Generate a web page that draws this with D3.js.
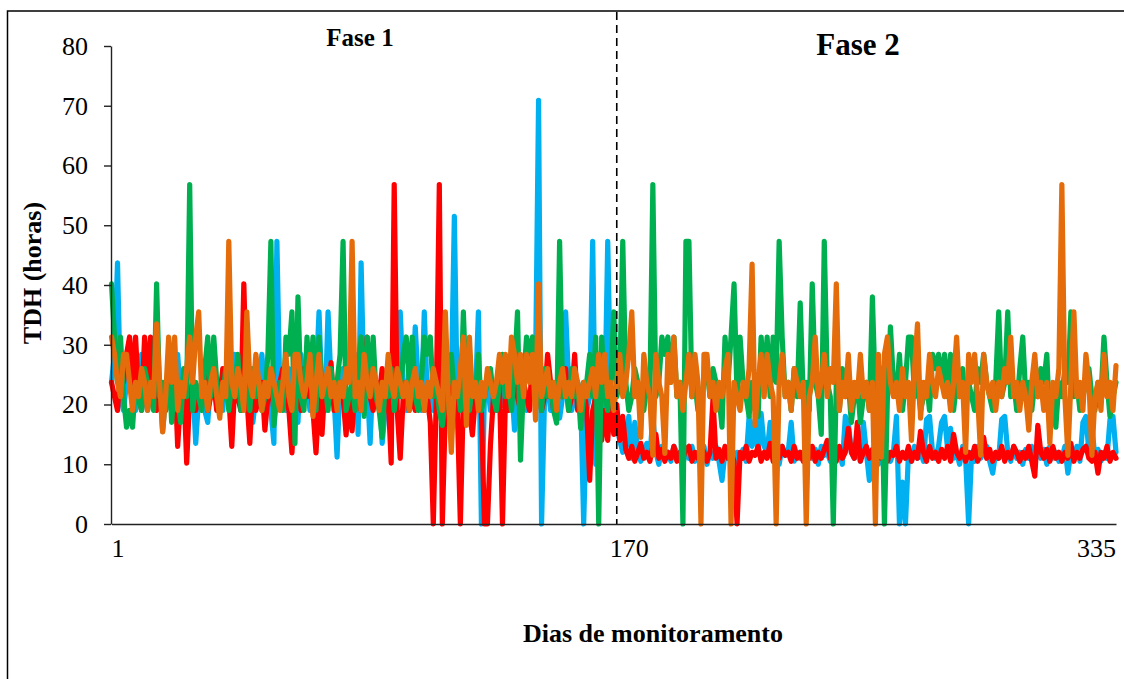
<!DOCTYPE html>
<html>
<head>
<meta charset="utf-8">
<script src="https://cdn.jsdelivr.net/npm/d3@7"></script>
<style>
  body { margin: 0; background: #fff; }
  svg text { font-family: 'Liberation Serif', 'Times New Roman', serif; }
</style>
</head>
<body>
<script>
// days of monitoring (x categories)
const days = d3.range(1, 336)
const xTickLabels = [1, 170, 335]
const yTicks = [0, 10, 20, 30, 40, 50, 60, 70, 80]
const phaseBreak = 169

// TDH (horas) per day
const blue = [
  23.7, 28.4, 43.7, 21.3, 19, 23.7, 26, 21.3, 19, 23.7, 28.4, 21.3, 19, 26, 23.7, 21.3, 23.7, 15.5, 21.3, 26,
  23.7, 19, 28.4, 21.3, 23.7, 19, 21.3, 23.7, 13.5, 21.3, 23.7, 19, 17, 23.7, 26, 21.3, 23.7, 19, 26, 23.7,
  21.3, 28.4, 23.7, 19, 21.3, 23.7, 26, 17, 21.3, 23.7, 28.4, 21.3, 23.7, 19, 13.5, 47.3, 21.3, 23.7, 19, 26,
  21.3, 23.7, 17, 28.4, 21.3, 23.7, 19, 26, 23.7, 35.5, 21.3, 19, 35.5, 23.7, 21.3, 11.2, 23.7, 26, 21.3, 19,
  23.7, 28.4, 15, 43.7, 21.3, 23.7, 13.5, 26, 21.3, 23.7, 13.5, 19, 21.3, 23.7, 28.4, 21.3, 35.5, 23.7, 19, 26,
  21.3, 33, 23.7, 19, 35.5, 21.3, 23.7, 19, 26, 21.3, 23.7, 19, 21.3, 23.7, 51.5, 19, 21.3, 23.7, 26, 19,
  23.7, 21.3, 35.5, 0, 21.3, 23.7, 19, 23.7, 21.3, 26, 23.7, 19, 21.3, 23.7, 15.7, 21.3, 26, 23.7, 19, 21.3,
  23.7, 26, 70.9, 0, 21.3, 23.7, 19, 21.3, 23.7, 17.7, 21.3, 35.5, 23.7, 19, 21.3, 23.7, 21.3, 0, 19, 21.3,
  47.3, 10, 21.3, 23.7, 19, 47.3, 21.3, 19, 16.5, 14,
  12, 13, 18, 11, 17, 12.5, 10.5, 12, 13.5, 11, 18, 12, 10, 13, 11.5, 12, 10.5, 13, 12, 11,
  10, 12.5, 11, 13, 10.5, 12, 11.5, 13, 10, 12, 11, 13, 10.5, 7.3, 12, 11, 13.5, 10, 12, 11,
  12.5, 10.5, 18, 13, 17.5, 12, 18.5, 13, 12, 17, 11, 12.5, 10, 13, 11.5, 12, 17, 10.5, 12, 11,
  12, 10.5, 13, 11, 12.5, 10, 13, 11.5, 12, 10.5, 13, 11, 12, 10, 18, 17, 12, 11, 13, 10.5,
  17, 12, 7.3, 11, 12.5, 10, 13, 11, 12, 10.5, 12, 18, 0, 7, 0, 12, 10.5, 13, 11, 12,
  10.5, 17.5, 18, 12, 11, 13, 17, 18, 12.5, 16, 11, 12, 10, 13, 11, 0, 12, 10.5, 13, 11,
  12, 13, 10.5, 8.5, 12, 11, 17.5, 18, 12, 10.5, 13, 11, 12, 10, 12.5, 11, 13, 10.5, 12, 11,
  12.5, 10, 13, 11, 12, 10.5, 11, 13, 8.5, 12, 11, 13, 10.5, 17, 18, 12, 16.5, 11, 12.5, 10.5,
  12, 11, 17.5, 18, 12
]

const red = [
  23.7, 21.3, 19, 26, 23.7, 28.4, 31.3, 23.7, 31.3, 21.3, 19, 31.3, 23.7, 31.3, 21.3, 19, 23.7, 21.3, 19, 23.7,
  21.3, 26, 13, 21.3, 23.7, 10.2, 21.3, 23.7, 19, 21.3, 23.7, 26, 19, 21.3, 23.7, 19, 21.3, 26, 23.7, 21.3,
  13, 23.7, 21.3, 19, 40.2, 21.3, 13.5, 23.7, 19, 21.3, 23.7, 15.7, 21.3, 23.7, 19, 21.3, 23.7, 26, 21.3, 19,
  11.9, 21.3, 23.7, 19, 26, 21.3, 23.7, 19, 11.9, 21.3, 15, 23.7, 21.3, 27, 19, 21.3, 23.7, 21.3, 14.9, 21.3,
  15.6, 23.7, 21.3, 19, 23.7, 31.3, 21.3, 19, 23.7, 21.3, 26, 19, 21.3, 10.2, 56.8, 19, 11, 21.3, 23.7, 19,
  21.3, 19, 23.7, 21.3, 19, 21.3, 17, 0, 21.3, 56.8, 0, 19, 21.3, 23.7, 21.3, 19, 0, 21.3, 23.7, 19,
  14.9, 21.3, 23.7, 19, 0, 0, 13.2, 21.3, 19, 23.7, 0, 21.3, 19, 23.7, 28.4, 21.3, 19, 23.7, 21.3, 19,
  28.4, 21.3, 23.7, 19, 21.3, 28.4, 23.7, 19, 21.3, 28.4, 21.3, 26, 19, 21.3, 28.4, 19, 21.3, 23.7, 19, 7.3,
  19, 21.3, 28.4, 14, 19, 14, 21.3, 15, 20, 14,
  18, 12.5, 11, 13, 10.5, 12, 13.5, 11, 12, 10.5, 13, 15, 11, 12.5, 10.5, 12, 11, 13, 10.5, 12,
  11, 12.5, 13, 10.5, 12, 11, 13, 12, 10.5, 12, 21, 11, 12.5, 10.5, 13, 11, 12, 10.5, 0, 12,
  11, 13, 10.5, 12, 11.5, 13, 10.5, 12, 11, 13.5, 10.5, 12, 11, 13, 11.5, 12, 10.5, 13, 11, 12,
  10.5, 12.5, 11, 13, 10.5, 12, 11, 12.5, 14, 11, 12, 10.5, 13, 11, 12, 16, 12, 11, 17, 10.5,
  12, 13, 11, 12.5, 10.5, 12, 11, 13, 10.5, 12, 11.5, 13, 10.5, 12, 11, 13, 10.5, 12, 11, 15.5,
  12, 10.5, 13, 11, 12, 10.5, 12.5, 11, 13, 10.5, 15, 12, 11, 12.5, 10.5, 12, 11, 13, 10.5, 12,
  14.5, 11, 12.5, 10.5, 12, 11, 13, 10.5, 12, 11, 13, 12, 10.5, 12, 11, 13, 10.5, 8, 16.5, 12,
  11, 12.5, 10.5, 13, 11, 12, 10.5, 12, 11, 13.5, 10.5, 12, 11, 12.5, 13, 11, 10.5, 12, 8.5, 12,
  11, 13, 10.5, 12, 11
]

const green = [
  40.2, 31.3, 23.7, 31.3, 21.3, 16.2, 19, 16.2, 23.7, 21.3, 19, 26, 23.7, 21.3, 19, 40.2, 21.3, 23.7, 19, 28.4,
  17, 23.7, 21.3, 17, 26, 21.3, 56.8, 19, 23.7, 21.3, 19, 26, 31.3, 21.3, 31.3, 23.7, 19, 21.3, 26, 19,
  23.7, 21.3, 28.4, 19, 21.3, 23.7, 19, 26, 21.3, 23.7, 19, 21.3, 28.4, 47.3, 16.5, 21.3, 23.7, 19, 31.3, 28.4,
  35.5, 13.5, 38, 21.3, 19, 31.3, 23.7, 31.3, 19, 31.3, 21.3, 23.7, 19, 26, 21.3, 23.7, 28.4, 47.3, 19, 21.3,
  23.7, 19, 26, 31.3, 18, 31.3, 23.7, 31.3, 21.3, 19, 14.5, 23.7, 21.3, 26, 19, 23.7, 21.3, 28.4, 31.3, 23.7,
  31.3, 21.3, 19, 23.7, 31.3, 28.4, 31.3, 21.3, 23.7, 19, 16.5, 21.3, 23.7, 28.4, 21.3, 23.7, 19, 35.5, 21.3, 19,
  23.7, 21.3, 28.4, 19, 21.3, 23.7, 26, 21.3, 19, 23.7, 28.4, 21.3, 23.7, 19, 26, 35.5, 10.7, 23.7, 31.3, 28.4,
  31.3, 21.3, 23.7, 19, 26, 21.3, 23.7, 19, 16.9, 47.3, 21.3, 23.7, 19, 26, 21.3, 23.7, 16, 21.3, 23.7, 28.4,
  21.3, 31.3, 0, 31.3, 21.3, 19, 23.7, 35.5, 21.3, 23.7,
  47.3, 23.7, 19, 21.3, 26, 23.7, 21.3, 19, 23.7, 21.3, 56.8, 21.3, 23.7, 31.3, 28.4, 31.3, 23.7, 31.3, 21.3, 23.7,
  0, 47.3, 47.3, 21.3, 23.7, 19, 21.3, 23.7, 26, 21.3, 26, 23.7, 21.3, 16.2, 31.3, 23.7, 31.3, 40.2, 21.3, 31.3,
  23.7, 21.3, 18, 23.7, 19, 18, 31.3, 23.7, 31.3, 21.3, 31.3, 23.7, 47.3, 31.3, 21.3, 23.7, 19, 26, 21.3, 37,
  21.3, 23.7, 19, 40.2, 23.7, 21.3, 15, 47.3, 23.7, 21.3, 0, 23.7, 19, 26, 21.3, 23.7, 17, 21.3, 23.7, 17,
  21.3, 23.7, 19, 38, 21.3, 23.7, 26, 0, 21.3, 33, 23.7, 21.3, 28.4, 19, 23.7, 31.3, 31.3, 21.3, 23.7, 19,
  21.3, 23.7, 19, 28.4, 26, 28.4, 23.7, 28.4, 21.3, 28.4, 19, 23.7, 21.3, 26, 19, 23.7, 21.3, 19, 26, 23.7,
  28.4, 23.7, 21.3, 19, 23.7, 35.5, 21.3, 23.7, 35.5, 21.3, 23.7, 19, 26, 31.3, 21.3, 23.7, 19, 23.7, 21.3, 26,
  23.7, 28.4, 16.2, 21.3, 16.2, 23.7, 21.3, 26, 23.7, 35.5, 21.3, 23.7, 19, 21.3, 23.7, 26, 21.3, 19, 23.7, 21.3,
  31.3, 23.7, 18, 21.3, 23.7
]

const orange = [
  31.3, 28.4, 23.7, 21.3, 28.4, 28.4, 23.7, 19, 23.7, 21.3, 26, 23.7, 19, 23.7, 21.3, 33.5, 23.7, 15.4, 21.3, 31.3,
  23.7, 31.3, 19, 23.7, 21.3, 26, 31.3, 23.7, 31.3, 35.5, 21.3, 23.7, 19, 23.7, 26, 21.3, 17.7, 23.7, 21.3, 47.3,
  23.7, 21.3, 26, 23.7, 19, 35.5, 23.7, 21.3, 28.4, 23.7, 19, 23.7, 21.3, 26, 23.7, 21.3, 19, 23.7, 28.4, 21.3,
  19, 28.4, 28.4, 23.7, 21.3, 23.7, 28.4, 18, 23.7, 28.4, 21.3, 23.7, 26, 21.3, 23.7, 19, 23.7, 21.3, 26, 23.7,
  47.3, 21.3, 23.7, 19, 28.4, 23.7, 21.3, 26, 23.7, 19, 23.7, 21.3, 28.4, 23.7, 21.3, 26, 23.7, 21.3, 23.7, 19,
  23.7, 26, 21.3, 23.7, 19, 23.7, 21.3, 26, 23.7, 21.3, 19, 35.5, 21.3, 12, 23.7, 21.3, 26, 31.3, 16.5, 31.3,
  21.3, 23.7, 19, 23.7, 21.3, 26, 23.7, 21.3, 23.7, 28.4, 23.7, 28.4, 21.3, 31.3, 28.4, 23.7, 28.4, 21.3, 28.4, 23.7,
  28.4, 17.4, 40.2, 21.3, 23.7, 26, 21.3, 23.7, 19, 23.7, 26, 21.3, 23.7, 21.3, 26, 23.7, 19, 23.7, 21.3, 23.7,
  26, 21.3, 28.4, 23.7, 28.4, 21.3, 23.7, 19, 23.7, 28.4,
  21.3, 23.7, 28.4, 35.5, 21.3, 23.7, 14.5, 28.4, 23.7, 21.3, 11.5, 28.4, 23.7, 21.3, 11.8, 28.4, 23.7, 31.3, 21.3, 23.7,
  19, 23.7, 28.4, 21.3, 28.4, 23.7, 0, 28.4, 28.4, 21.3, 23.7, 19, 23.7, 21.3, 26, 28.4, 0, 23.7, 21.3, 19,
  23.7, 21.3, 26, 43.5, 16.5, 23.7, 28.4, 21.3, 28.4, 23.7, 21.3, 0, 23.7, 28.4, 21.3, 23.7, 19, 26, 23.7, 21.3,
  23.7, 0, 21.3, 23.7, 31.3, 21.3, 23.7, 28.4, 21.3, 26, 23.7, 40.2, 19, 23.7, 21.3, 28.4, 19, 23.7, 21.3, 28.4,
  21.3, 23.7, 19, 23.7, 0, 28.4, 11.2, 28.4, 31.3, 23.7, 21.3, 23.7, 19, 26, 21.3, 23.7, 14, 26, 33.5, 17.7,
  23.7, 21.3, 28.4, 23.7, 21.3, 26, 23.7, 21.3, 23.7, 19, 23.7, 31.3, 21.3, 23.7, 12, 28.4, 23.7, 28.4, 21.3, 11.5,
  28.4, 23.7, 21.3, 23.7, 19, 23.7, 21.3, 26, 23.7, 31.3, 21.3, 23.7, 19, 23.7, 21.3, 15.7, 23.7, 28.4, 21.3, 23.7,
  19, 23.7, 13.5, 23.7, 21.3, 26, 56.8, 21.3, 11.5, 23.7, 35.5, 21.3, 23.7, 19, 28.4, 23.7, 11.5, 21.3, 23.7, 19,
  28.4, 21.3, 23.7, 19, 26.5
]

const series = [
  {name: 'blue', values: blue, color: '#00B0F0'},
  {name: 'red', values: red, color: '#FF0000'},
  {name: 'green', values: green, color: '#00B050'},
  {name: 'orange', values: orange, color: '#E46C0A'}
]

const width = 1124, height = 679
const serif = "'Liberation Serif', 'Times New Roman', serif"

const svg = d3.select('body')
  .append('svg')
  .attr('width', width)
  .attr('height', height)

// outer frame (open on the right and bottom, like the source)
svg.append('rect')
  .attr('x', 7.5)
  .attr('y', 11)
  .attr('width', 1140)
  .attr('height', 700)
  .attr('fill', 'none')
  .attr('stroke', '#000')
  .attr('stroke-width', 1.5)

const x = d3.scaleLinear()
  .domain([1, 335])
  .range([111.5, 1116])

const y = d3.scaleLinear()
  .domain([0, 80])
  .range([524, 46])

// series lines
const line = d3.line()
  .x((d, i) => x(days[i]))
  .y(d => y(d))

svg.append('g')
  .selectAll('path')
  .data(series)
  .enter()
  .append('path')
  .attr('d', d => line(d.values))
  .attr('fill', 'none')
  .attr('stroke', d => d.color)
  .attr('stroke-width', 5.2)
  .attr('stroke-linejoin', 'round')
  .attr('stroke-linecap', 'round')

// phase separator
svg.append('line')
  .attr('x1', x(phaseBreak))
  .attr('x2', x(phaseBreak))
  .attr('y1', 12)
  .attr('y2', y(0))
  .attr('stroke', '#000')
  .attr('stroke-width', 1.6)
  .attr('stroke-dasharray', '8,5')

// Y axis
const yAxis = svg.append('g')
  .attr('transform', 'translate(111,0)')
  .call(d3.axisLeft(y).tickValues(yTicks).tickSize(7).tickSizeOuter(0).tickPadding(16))
yAxis.attr('font-family', serif)
yAxis.selectAll('text')
  .style('font-size', '26px')
  .style('font-family', serif)
  .attr('fill', '#000')
yAxis.selectAll('line, path').attr('stroke', '#222').attr('stroke-width', 1.4)

// X axis
const xAxis = svg.append('g')
  .attr('transform', `translate(0,${y(0)})`)
  .call(d3.axisBottom(x).tickValues(xTickLabels).tickSize(0).tickSizeOuter(0).tickPadding(15))
xAxis.attr('font-family', serif)
xAxis.selectAll('text')
  .style('font-size', '26px')
  .style('font-family', serif)
  .attr('fill', '#000')
  .attr('dx', d => d === 335 ? -20 : (d === 1 ? 6 : 9))
xAxis.select('path').attr('stroke', '#222').attr('stroke-width', 1.4)

// labels
const labels = svg.append('g')
  .style('font-family', serif)
  .style('font-weight', 'bold')

labels.append('text')
  .attr('x', 360)
  .attr('y', 46)
  .attr('text-anchor', 'middle')
  .style('font-size', '25px')
  .text('Fase 1')

labels.append('text')
  .attr('x', 858)
  .attr('y', 55)
  .attr('text-anchor', 'middle')
  .style('font-size', '31px')
  .text('Fase 2')

labels.append('text')
  .attr('transform', 'translate(41,273) rotate(-90)')
  .attr('text-anchor', 'middle')
  .style('font-size', '26px')
  .text('TDH (horas)')

labels.append('text')
  .attr('x', 653)
  .attr('y', 642)
  .attr('text-anchor', 'middle')
  .style('font-size', '26px')
  .text('Dias de monitoramento')
</script>
</body>
</html>
